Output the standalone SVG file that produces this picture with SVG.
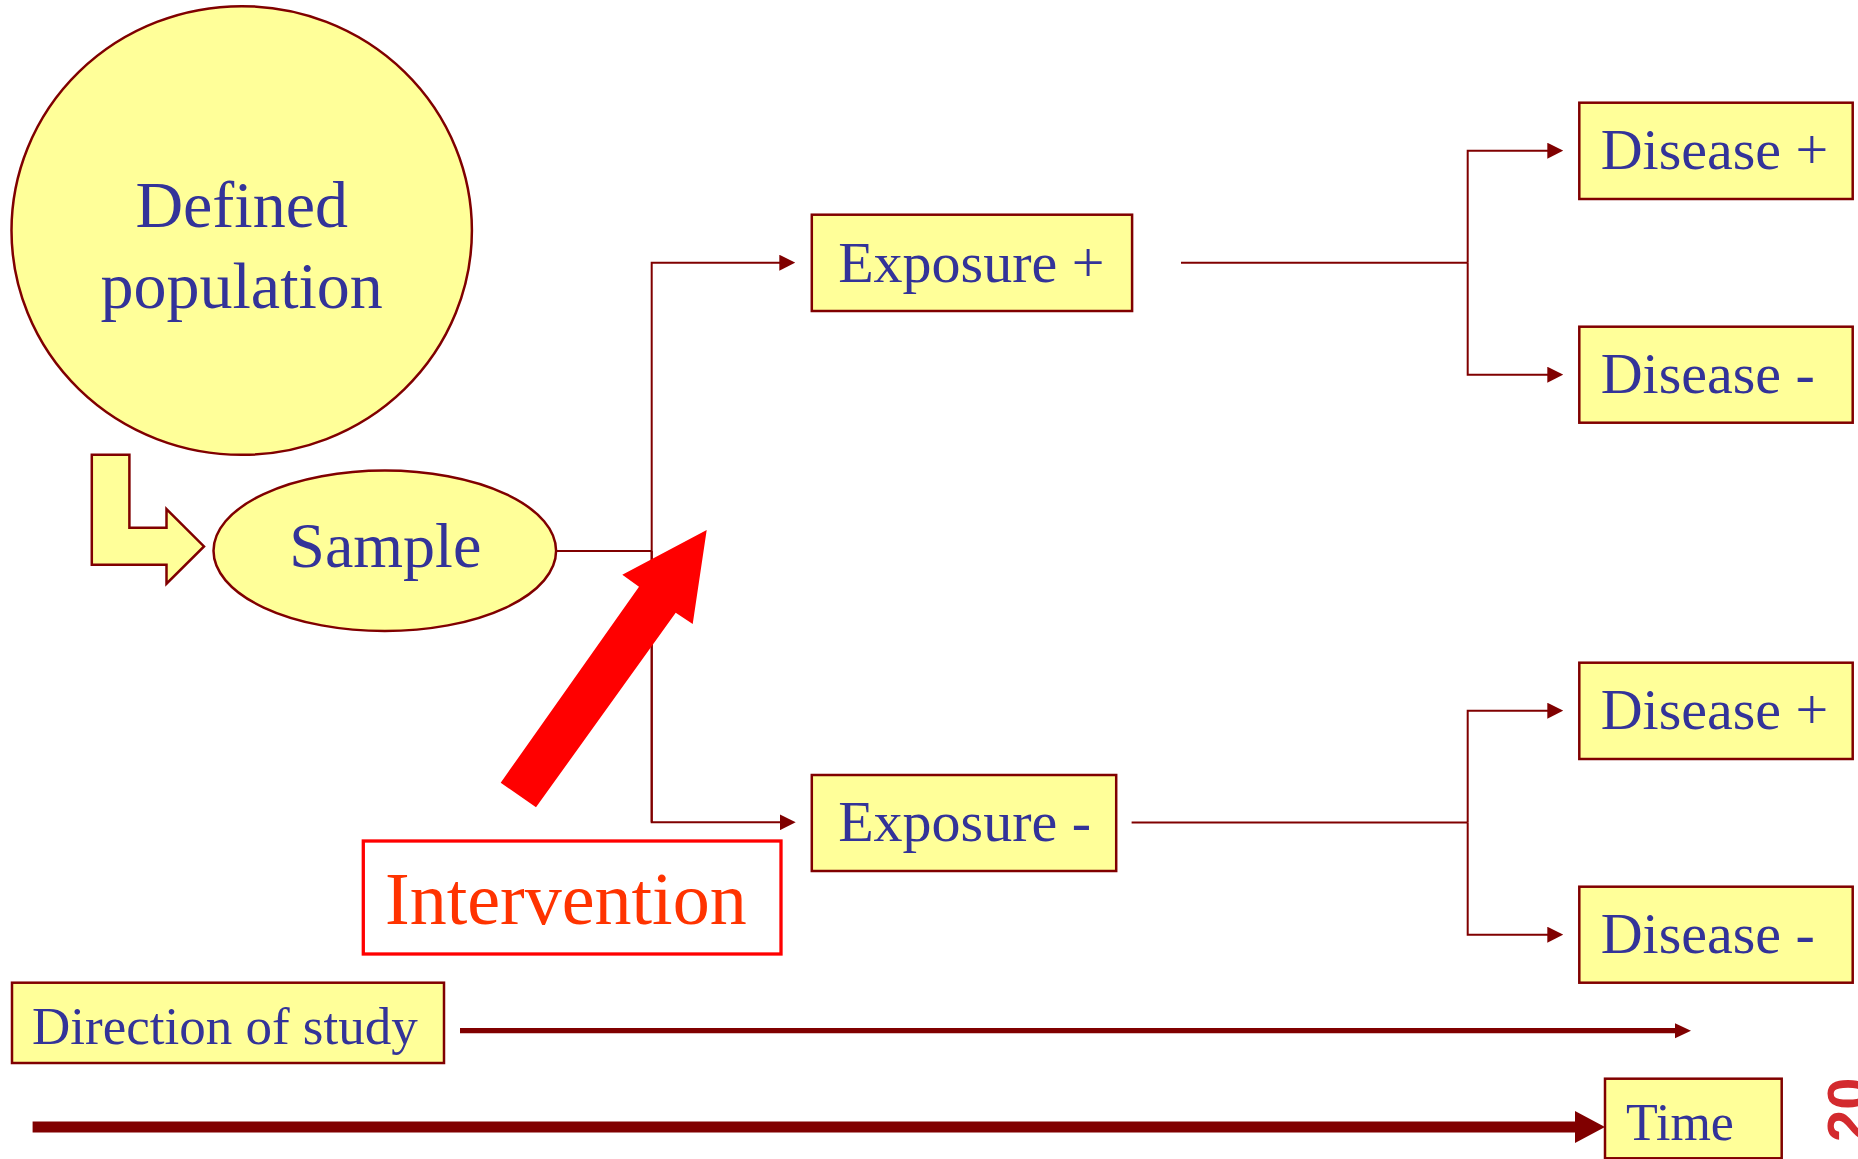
<svg xmlns="http://www.w3.org/2000/svg" width="1858" height="1159" viewBox="0 0 1858 1159">
<style>
.shape{fill:#FFFF99;stroke:#800000;stroke-width:2.5}
.lbl{font-family:"Liberation Serif","Times New Roman",serif;fill:#333399}
.conn{stroke:#800000;stroke-width:2;fill:none}
</style>
<defs>
<marker id="ah" markerUnits="userSpaceOnUse" markerWidth="16" markerHeight="16" viewBox="0 0 16 16" refX="8" refY="8" orient="auto">
<path d="M0,0 L16,8 L0,16 z" fill="#800000"/>
</marker>
<marker id="ahDir" markerUnits="userSpaceOnUse" markerWidth="16" markerHeight="16" viewBox="0 0 16 16" refX="8" refY="8" orient="auto">
<path d="M0,0.5 L16,8 L0,15.5 z" fill="#800000"/>
</marker>
</defs>
<rect width="1858" height="1159" fill="#FFFFFF"/>

<g id="connectors">
<path class="conn" d="M556,551 H651.7"/>
<path class="conn" d="M651.7,822.3 V262.7 H787.3" marker-end="url(#ah)"/>
<path class="conn" d="M651.7,551 V822.3 H787.7" marker-end="url(#ah)"/>
<path class="conn" d="M1181,262.7 H1467.7"/>
<path class="conn" d="M1467.7,262.7 V150.7 H1555.3" marker-end="url(#ah)"/>
<path class="conn" d="M1467.7,262.7 V374.7 H1555.3" marker-end="url(#ah)"/>
<path class="conn" d="M1131.6,822.5 H1467.7"/>
<path class="conn" d="M1467.7,822.5 V710.7 H1555.3" marker-end="url(#ah)"/>
<path class="conn" d="M1467.7,822.5 V934.7 H1555.3" marker-end="url(#ah)"/>
<path d="M460,1030.7 H1683" stroke="#800000" stroke-width="5.3" marker-end="url(#ahDir)"/>
<path d="M32.6,1127 H1577" stroke="#800000" stroke-width="11"/>
<polygon points="1575,1111 1605,1127 1575,1143" fill="#800000"/>
</g>

<g id="defined-population">
<ellipse class="shape" cx="241.7" cy="230.5" rx="230.2" ry="224.3" stroke-width="2"/>
<text class="lbl" x="241.7" y="227.2" font-size="66" text-anchor="middle">Defined</text>
<text class="lbl" x="241.7" y="307.6" font-size="66" text-anchor="middle">population</text>
</g>

<g id="sample-arrow">
<polygon class="shape" stroke-width="2" points="91.8,454.8 129.4,454.8 129.4,527.8 166.5,527.8 166.5,509.1 204,546.4 166.5,583.7 166.5,564.7 91.8,564.7"/>
</g>

<g id="sample">
<ellipse class="shape" cx="384.8" cy="550.8" rx="171.3" ry="80.2" stroke-width="2"/>
<text class="lbl" x="385.3" y="567.2" font-size="64" text-anchor="middle">Sample</text>
</g>

<g id="exposure-plus">
<rect class="shape" x="811.8" y="214.7" width="320.3" height="96.3"/>
<text class="lbl" x="838.2" y="281.7" font-size="58">Exposure +</text>
</g>

<g id="exposure-minus">
<rect class="shape" x="811.8" y="775" width="304.4" height="96"/>
<text class="lbl" x="838.2" y="841.3" font-size="58">Exposure -</text>
</g>

<g id="disease-plus-1">
<rect class="shape" x="1579.3" y="102.7" width="273.4" height="96.3"/>
<text class="lbl" x="1600.7" y="169.3" font-size="58">Disease +</text>
</g>
<g id="disease-minus-1">
<rect class="shape" x="1579.3" y="326.7" width="273.4" height="96"/>
<text class="lbl" x="1600.7" y="393.3" font-size="58">Disease -</text>
</g>
<g id="disease-plus-2">
<rect class="shape" x="1579.3" y="662.7" width="273.4" height="96.3"/>
<text class="lbl" x="1600.7" y="729.3" font-size="58">Disease +</text>
</g>
<g id="disease-minus-2">
<rect class="shape" x="1579.3" y="886.7" width="273.4" height="96"/>
<text class="lbl" x="1600.7" y="953.3" font-size="58">Disease -</text>
</g>

<g id="intervention-arrow">
<polygon fill="#FF0000" points="706.7,530 692.7,624 675.7,612.7 536,807.3 500.7,782.7 639,586.7 622.3,574.7"/>
</g>

<g id="intervention">
<rect x="363.3" y="841" width="417.7" height="113" fill="#FFFFFF" stroke="#FF0000" stroke-width="3.3"/>
<text x="385" y="924" font-size="74" font-family="Liberation Serif, Times New Roman, serif" fill="#FF3300">Intervention</text>
</g>

<g id="direction-of-study">
<rect class="shape" x="12" y="982.7" width="432" height="80.3"/>
<text class="lbl" x="32" y="1044.3" font-size="53">Direction of study</text>
</g>

<g id="time">
<rect class="shape" x="1605" y="1078.7" width="176.7" height="79.6" stroke-width="2"/>
<text class="lbl" x="1626" y="1140" font-size="52">Time</text>
</g>

<g id="page-number">
<text transform="translate(1868,1142) rotate(-90)" font-size="58" font-weight="bold" font-family="Liberation Sans, Arial, sans-serif" fill="#D32A2E">20</text>
</g>
</svg>
